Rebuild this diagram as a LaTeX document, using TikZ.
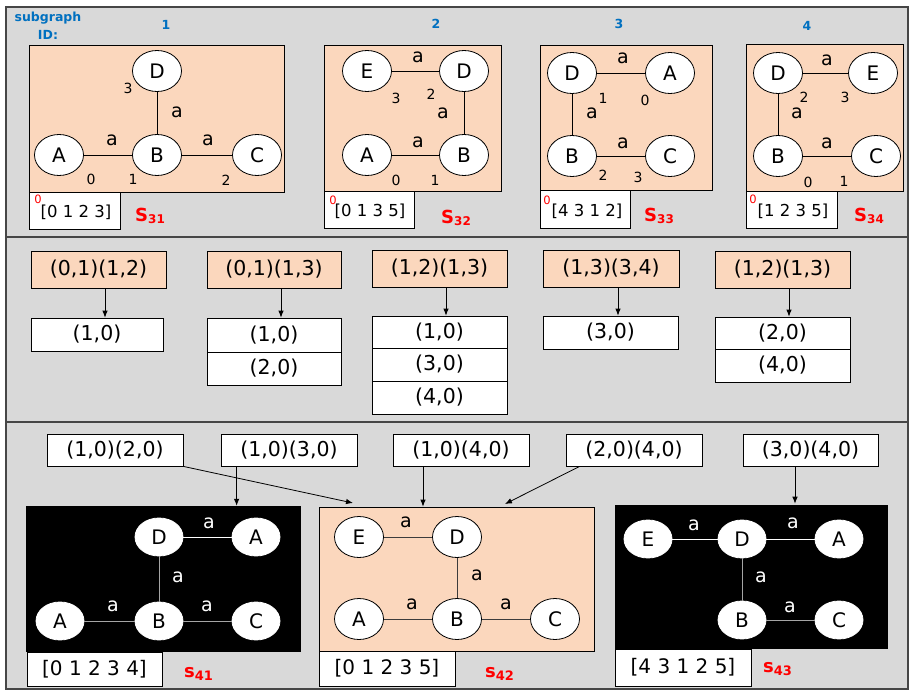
\documentclass[tikz,border=0pt]{standalone}
\usepackage{fontspec}
\setmainfont{DejaVu Sans}
\usetikzlibrary{shapes.geometric,arrows.meta}

\definecolor{panelgray}{RGB}{217,217,217}
\definecolor{paneledge}{RGB}{70,70,70}
\definecolor{peach}{RGB}{251,215,189}
\definecolor{idblue}{RGB}{0,112,192}
\definecolor{edgegray}{RGB}{165,165,165}
\definecolor{darkedge}{RGB}{60,60,60}

\newcommand{\fs}[1]{\fontsize{#1}{#1}\selectfont}
\newcommand{\subS}[1]{S\raisebox{-2.5pt}{\fs{12}#1}}
\newcommand{\subs}[1]{s\raisebox{-2.5pt}{\fs{13}#1}}

\begin{document}
\begin{tikzpicture}[x=1pt,y=-1pt,
  panel/.style={fill=panelgray,draw=paneledge,line width=1.4pt},
  peachbox/.style={draw=black,fill=peach,line width=0.8pt,inner sep=0pt},
  blackbox/.style={fill=black,inner sep=0pt},
  whitebox/.style={draw=black,fill=white,line width=0.8pt,inner sep=0pt},
  vert/.style={ellipse,draw=black,fill=white,line width=0.8pt,minimum width=49pt,
    minimum height=41pt,inner sep=0pt,font=\fs{20}},
  bvert/.style={vert,draw=white,minimum width=48pt,minimum height=38pt},
  elab/.style={font=\fs{19},inner sep=0pt},
  welab/.style={elab,text=white},
  idx/.style={font=\fs{14},inner sep=0pt},
  idlab/.style={font=\bfseries\fs{12.5},text=idblue,inner sep=0pt},
  redzero/.style={font=\fs{11.5},text=red,inner sep=0pt},
  arrtext/.style={font=\fs{16.5},inner sep=0pt},
  slab/.style={font=\bfseries\fs{18},text=red,inner sep=0pt,anchor=west},
  gedge/.style={draw=black,line width=0.8pt},
  wedge/.style={draw=white,line width=1pt},
  gyedge/.style={draw=edgegray,line width=1pt},
  dedge/.style={draw=darkedge,line width=1pt},
  arr/.style={draw=black,line width=0.8pt,-{Latex[length=7pt,width=5.5pt]}},
  pairtext/.style={font=\fs{20.5}}
]
\fill[white] (0,0) rectangle (910,693);
\useasboundingbox (0,0) rectangle (910,693);

% three panels
\draw[panel] (6,7) rectangle (908,237);
\draw[panel] (6,237) rectangle (908,422);
\draw[panel] (6,422) rectangle (908,689);

% ---------------- top panel: subgraphs of size 3 ----------------
\node[idlab,align=center,font=\bfseries\fontsize{12.5}{18}\selectfont] (idhdr) at (48,26) {subgraph\\ID:};
\node[idlab] (id1) at (166,25) {1};
\node[idlab] (id2) at (436,24) {2};
\node[idlab] (id3) at (619,24) {3};
\node[idlab] (id4) at (807,26) {4};

% subgraph 1
\node[peachbox,minimum width=255pt,minimum height=147pt] (g1) at (156.5,118.5) {};
\node[whitebox,minimum width=91pt,minimum height=37pt] (a1) at (74.5,210.5) {};
\node[vert] (g1D) at (157,71) {D};
\node[vert] (g1A) at (59,155) {A};
\node[vert] (g1B) at (157,155) {B};
\node[vert] (g1C) at (257,155) {C};
\draw[gedge] (g1A) -- (g1B);
\draw[gedge] (g1B) -- (g1C);
\draw[gedge] (g1D) -- (g1B);
\node[elab] (g1l1) at (112,140) {a};
\node[elab] (g1l2) at (208,140) {a};
\node[elab] (g1l3) at (177,112) {a};
\node[idx] (g1i3) at (128,88) {3};
\node[idx] (g1i0) at (91,179) {0};
\node[idx] (g1i1) at (133,179) {1};
\node[idx] (g1i2) at (226,180) {2};
\node[redzero] (a1z) at (38,199) {0};
\node[arrtext] (a1t) at (76,212) {[0 1 2 3]};
\node[slab] (s31) at (135,216) {\subS{31}};

% subgraph 2
\node[peachbox,minimum width=177pt,minimum height=146pt] (g2) at (412.5,118) {};
\node[whitebox,minimum width=90pt,minimum height=37pt] (a2) at (369,209.5) {};
\node[vert] (g2E) at (367,71) {E};
\node[vert] (g2D) at (464,71) {D};
\node[vert] (g2A) at (367,155) {A};
\node[vert] (g2B) at (464,155) {B};
\draw[gedge] (g2E) -- (g2D);
\draw[gedge] (g2D) -- (g2B);
\draw[gedge] (g2A) -- (g2B);
\node[elab] (g2l1) at (418,57) {a};
\node[elab] (g2l2) at (443,113) {a};
\node[elab] (g2l3) at (418,142) {a};
\node[idx] (g2i3) at (396,98) {3};
\node[idx] (g2i2) at (431,94) {2};
\node[idx] (g2i0) at (396,180) {0};
\node[idx] (g2i1) at (435,180) {1};
\node[redzero] (a2z) at (333,200) {0};
\node[arrtext] (a2t) at (370,211) {[0 1 3 5]};
\node[slab] (s32) at (441,218) {\subS{32}};

% subgraph 3
\node[peachbox,minimum width=172pt,minimum height=145pt] (g3) at (626,117.5) {};
\node[whitebox,minimum width=90pt,minimum height=38pt] (a3) at (585,209) {};
\node[vert] (g3D) at (572,73) {D};
\node[vert] (g3A) at (670,73) {A};
\node[vert] (g3B) at (572,156) {B};
\node[vert] (g3C) at (670,156) {C};
\draw[gedge] (g3D) -- (g3A);
\draw[gedge] (g3D) -- (g3B);
\draw[gedge] (g3B) -- (g3C);
\node[elab] (g3l1) at (623,58) {a};
\node[elab] (g3l2) at (592,113) {a};
\node[elab] (g3l3) at (623,143) {a};
\node[idx] (g3i1) at (603,98) {1};
\node[idx] (g3i0) at (645,100) {0};
\node[idx] (g3i2) at (603,175) {2};
\node[idx] (g3i3) at (638,177) {3};
\node[redzero] (a3z) at (547,200) {0};
\node[arrtext] (a3t) at (587,211) {[4 3 1 2]};
\node[slab] (s33) at (644,216) {\subS{33}};

% subgraph 4
\node[peachbox,minimum width=157pt,minimum height=147pt] (g4) at (824.5,117.5) {};
\node[whitebox,minimum width=91pt,minimum height=37pt] (a4) at (791.5,209.5) {};
\node[vert] (g4D) at (778,73) {D};
\node[vert] (g4E) at (873,73) {E};
\node[vert] (g4B) at (778,156) {B};
\node[vert] (g4C) at (876,156) {C};
\draw[gedge] (g4D) -- (g4E);
\draw[gedge] (g4D) -- (g4B);
\draw[gedge] (g4B) -- (g4C);
\node[elab] (g4l1) at (827,60) {a};
\node[elab] (g4l2) at (797,113) {a};
\node[elab] (g4l3) at (827,143) {a};
\node[idx] (g4i2) at (804,97) {2};
\node[idx] (g4i3) at (845,97) {3};
\node[idx] (g4i0) at (808,182) {0};
\node[idx] (g4i1) at (844,181) {1};
\node[redzero] (a4z) at (753,199) {0};
\node[arrtext] (a4t) at (793,211) {[1 2 3 5]};
\node[slab] (s34) at (854,216) {\subS{34}};

% ---------------- middle panel: edge pairs and extensions ----------------
\tikzset{hdr/.style={peachbox,minimum width=135pt,minimum height=37pt,pairtext},
         cell/.style={whitebox,minimum width=135pt,minimum height=33pt,pairtext}}
\node[hdr] (h1) at (98.5,269.5) {(0,1)(1,2)};
\node[cell,minimum width=132pt] (c1a) at (97,334.5) {(1,0)};
\draw[arr] ([xshift=6.5pt]h1.south) -- ([xshift=6.5pt]h1.south |- c1a.north);

\node[hdr,minimum width=134pt] (h2) at (274,269.5) {(0,1)(1,3)};
\node[cell,minimum width=134pt,minimum height=34pt] (c2a) at (274,335) {(1,0)};
\node[cell,minimum width=134pt] (c2b) at (274,368.5) {(2,0)};
\draw[arr] ([xshift=7pt]h2.south) -- ([xshift=7pt]h2.south |- c2a.north);

\node[hdr] (h3) at (439.5,268.5) {(1,2)(1,3)};
\node[cell,minimum height=32pt] (c3a) at (439.5,332) {(1,0)};
\node[cell] (c3b) at (439.5,364.5) {(3,0)};
\node[cell] (c3c) at (439.5,397.5) {(4,0)};
\draw[arr] ([xshift=6.5pt]h3.south) -- ([xshift=6.5pt]h3.south |- c3a.north);

\node[hdr,minimum width=136pt] (h4) at (611,268.5) {(1,3)(3,4)};
\node[cell] (c4a) at (610.5,332.5) {(3,0)};
\draw[arr] ([xshift=7pt]h4.south) -- ([xshift=7pt]h4.south |- c4a.north);

\node[hdr] (h5) at (782.5,269.5) {(1,2)(1,3)};
\node[cell,minimum height=32pt] (c5a) at (782.5,333) {(2,0)};
\node[cell] (c5b) at (782.5,365.5) {(4,0)};
\draw[arr] ([xshift=6.5pt]h5.south) -- ([xshift=6.5pt]h5.south |- c5a.north);

% ---------------- bottom panel: subgraphs of size 4 ----------------
\tikzset{pair/.style={whitebox,minimum width=136pt,minimum height=32pt,pairtext},
         arrbig/.style={whitebox,minimum width=136pt,minimum height=35pt,font=\fs{20}}}
\node[pair] (b1) at (115,450) {(1,0)(2,0)};
\node[pair] (b2) at (289,450) {(1,0)(3,0)};
\node[pair] (b3) at (461,450) {(1,0)(4,0)};
\node[pair] (b4) at (634,450) {(2,0)(4,0)};
\node[pair,minimum width=135pt] (b5) at (810.5,450) {(3,0)(4,0)};

% subgraph s41
\node[blackbox,minimum width=275pt,minimum height=146pt] (k1) at (163.5,579) {};
\node[arrbig,minimum width=135pt,minimum height=34pt] (r1) at (94.5,669) {[0 1 2 3 4]};
\node[bvert] (k1D) at (159,537) {D};
\node[bvert] (k1A2) at (256,537) {A};
\node[bvert] (k1A) at (60,621) {A};
\node[bvert] (k1B) at (159,621) {B};
\node[bvert] (k1C) at (256,621) {C};
\draw[wedge] (k1D) -- (k1A2);
\draw[gyedge] (k1D) -- (k1B);
\draw[gyedge] (k1A) -- (k1B);
\draw[gyedge] (k1B) -- (k1C);
\node[welab] (k1l1) at (209,523) {a};
\node[welab] (k1l2) at (178,577) {a};
\node[welab] (k1l3) at (113,606) {a};
\node[welab] (k1l4) at (207,606) {a};
\node[slab] (s41) at (184,674) {\subs{41}};

% subgraph s42
\node[peachbox,minimum width=275pt,minimum height=144pt] (k2) at (456.5,579) {};
\node[arrbig] (r2) at (387,668.5) {[0 1 2 3 5]};
\node[vert] (k2E) at (359,537) {E};
\node[vert] (k2D) at (457,537) {D};
\node[vert] (k2A) at (359,619) {A};
\node[vert] (k2B) at (457,619) {B};
\node[vert] (k2C) at (555,619) {C};
\draw[dedge] (k2E) -- (k2D);
\draw[dedge] (k2D) -- (k2B);
\draw[dedge] (k2A) -- (k2B);
\draw[dedge] (k2B) -- (k2C);
\node[elab] (k2l1) at (406,522) {a};
\node[elab] (k2l2) at (477,575) {a};
\node[elab] (k2l3) at (412,604) {a};
\node[elab] (k2l4) at (506,604) {a};
\node[slab] (s42) at (485,674) {\subs{42}};

% subgraph s43
\node[blackbox,minimum width=274pt,minimum height=145pt,draw=white!85!black,line width=0.6pt] (k3) at (751,576.5) {};
\node[arrbig,minimum height=37pt] (r3) at (683,667.5) {[4 3 1 2 5]};
\node[bvert] (k3E) at (648,539) {E};
\node[bvert] (k3D) at (742,539) {D};
\node[bvert] (k3A) at (839,539) {A};
\node[bvert] (k3B) at (742,620) {B};
\node[bvert] (k3C) at (839,620) {C};
\draw[wedge] (k3E) -- (k3D);
\draw[wedge] (k3D) -- (k3A);
\draw[gyedge] (k3D) -- (k3B);
\draw[gyedge] (k3B) -- (k3C);
\node[welab] (k3l1) at (694,525) {a};
\node[welab] (k3l2) at (793,523) {a};
\node[welab] (k3l3) at (761,577) {a};
\node[welab] (k3l4) at (790,607) {a};
\node[slab] (s43) at (763,669) {\subs{43}};

% extension arrows
\coordinate (k2in1) at (353,503);
\coordinate (k2in2) at (505,504);
\draw[arr] (b1.south east) -- (k2in1);
\draw[arr] ([xshift=16pt]b2.south west) -- ([xshift=16pt]b2.south west |- k1.north);
\draw[arr] ([xshift=-38pt]b3.south) -- ([xshift=-38pt]b3.south |- k2.north);
\draw[arr] ([xshift=14pt]b4.south west) -- (k2in2);
\draw[arr] ([xshift=-15.5pt]b5.south) -- ([xshift=-15.5pt]b5.south |- k3.north);
\end{tikzpicture}
\end{document}
